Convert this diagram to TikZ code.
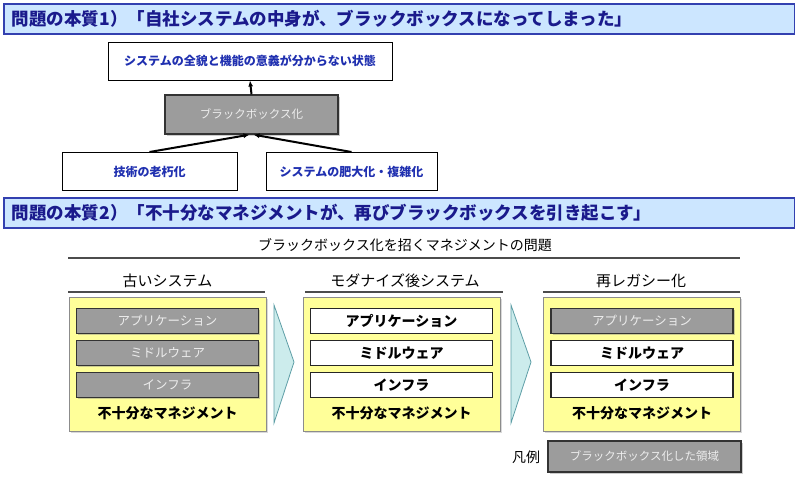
\documentclass[tikz,border=0pt]{standalone}
\usepackage{fontspec}
\setmainfont{Noto Sans CJK JP}
\usetikzlibrary{calc,shadows,arrows.meta}

\definecolor{bannerfill}{HTML}{CCE6FF}
\definecolor{bannerline}{HTML}{3340B0}
\definecolor{bannertext}{HTML}{1A1A8C}
\definecolor{boxtext}{HTML}{2030B0}
\definecolor{bbfill}{HTML}{9C9C9C}
\definecolor{bbtext}{HTML}{EDEDED}
\definecolor{mgmtfill}{HTML}{FFFF99}
\definecolor{chevfill}{HTML}{CCECEC}
\definecolor{chevline}{HTML}{5E9EA6}

\tikzset{
  banner/.style={draw=bannerline, fill=bannerfill, line width=1.2pt, inner xsep=8pt,
    text width=775pt, align=left, minimum height=30pt, text=bannertext,
    font=\fontsize{17.5pt}{19pt}\selectfont\bfseries},
  issuebox/.style={draw=black, fill=white, line width=1pt, minimum height=38pt,
    text=boxtext, font=\fontsize{12pt}{14pt}\selectfont\bfseries},
  blackbox/.style={draw=black!80, fill=bbfill, line width=1.4pt, text=bbtext,
    drop shadow={shadow xshift=1.5pt, shadow yshift=-1.5pt, opacity=0.4}},
  stackbox/.style={draw=black!45, fill=mgmtfill, line width=1pt, minimum width=197pt,
    minimum height=134pt,
    drop shadow={shadow xshift=1.5pt, shadow yshift=-1.5pt, opacity=0.3}},
  layer/.style={draw=black!85, fill=white, line width=1.4pt, minimum width=182pt,
    minimum height=25pt, inner sep=0pt, font=\fontsize{14pt}{16pt}\selectfont\bfseries},
  greylayer/.style={layer, blackbox, font=\fontsize{12.5pt}{15pt}\selectfont},
  heading/.style={font=\fontsize{14pt}{16pt}\selectfont, inner sep=0pt},
  colhead/.style={font=\fontsize{15pt}{17pt}\selectfont, inner sep=0pt},
  mgmt/.style={font=\fontsize{14pt}{16pt}\selectfont\bfseries, inner sep=0pt},
  rule/.style={draw=black!70, line width=1.3pt},
  chevron/.style={draw=chevline, fill=chevfill, line width=0.8pt},
  cause/.style={-{Latex[length=6pt,width=5pt]}, line width=2pt}
}

\begin{document}
\begin{tikzpicture}[x=1pt,y=-1pt]
	\useasboundingbox (0,0) rectangle (795,480);

	%issue 1
	\node[banner] (issueA) at (399.5,19) {問題の本質1）「自社システムの中身が、ブラックボックスになってしまった」};
	\node[issuebox, minimum width=284pt] (state) at (250,61) {システムの全貌と機能の意義が分からない状態};
	\node[blackbox, minimum width=173pt, minimum height=39pt,
	      font=\fontsize{11.5pt}{14pt}\selectfont] (bbox) at (251.5,114.5) {ブラックボックス化};
	\node[issuebox, minimum width=175pt] (tech) at (149.5,171.5) {技術の老朽化};
	\node[issuebox, minimum width=171pt] (growth) at (351.5,171.5) {システムの肥大化・複雑化};

	%arrows
	\draw[cause] (bbox.north) -- (state.south);
	\draw[cause] (tech.north) -- ([xshift=-2pt]bbox.south);
	\draw[cause] (growth.north) -- ([xshift=2pt]bbox.south);

	%issue 2
	\node[banner] (issueB) at (399.5,213) {問題の本質2）「不十分なマネジメントが、再びブラックボックスを引き起こす」};
	\node[heading] (topic) at (405,245) {ブラックボックス化を招くマネジメントの問題};
	\draw[rule] (68,258) -- (740,258);

	%columns
	\node[colhead] (oldhead) at (167.5,281) {古いシステム};
	\node[colhead] (modhead) at (405,281) {モダナイズ後システム};
	\node[colhead] (relhead) at (641,281) {再レガシー化};
	\draw[rule] (68,292) -- (265,292);
	\draw[rule] (305,292) -- (503,292);
	\draw[rule] (543,292) -- (740,292);

	\node[stackbox] (old) at (167.5,364) {};
	\node[stackbox] (mod) at (401.5,364) {};
	\node[stackbox] (rel) at (642,364) {};

	%old system
	\node[greylayer] (oldapp) at (167.5,321) {アプリケーション};
	\node[greylayer] (oldmid) at (167.5,353) {ミドルウェア};
	\node[greylayer] (oldinf) at (167.5,385) {インフラ};
	\node[mgmt] (oldmgmt) at (167.5,413) {不十分なマネジメント};

	%modernized
	\node[layer] (modapp) at (401.5,321) {アプリケーション};
	\node[layer] (modmid) at (401.5,353) {ミドルウェア};
	\node[layer] (modinf) at (401.5,385) {インフラ};
	\node[mgmt] (modmgmt) at (401.5,413) {不十分なマネジメント};

	%re-legacy
	\node[greylayer] (relapp) at (642,321) {アプリケーション};
	\node[layer] (relmid) at (642,353) {ミドルウェア};
	\node[layer] (relinf) at (642,385) {インフラ};
	\node[mgmt] (relmgmt) at (642,413) {不十分なマネジメント};

	%chevrons
	\draw[chevron] (274,305) -- (294,362) -- (274,423) -- cycle;
	\draw[chevron] (511,305) -- (531,362) -- (511,423) -- cycle;

	%legend
	\node[heading] (legendlabel) at (526,457) {凡例};
	\node[blackbox, minimum width=193pt, minimum height=31pt,
	      font=\fontsize{11.5pt}{13pt}\selectfont] (legend) at (644.5,456.5) {ブラックボックス化した領域};
\end{tikzpicture}
\end{document}
